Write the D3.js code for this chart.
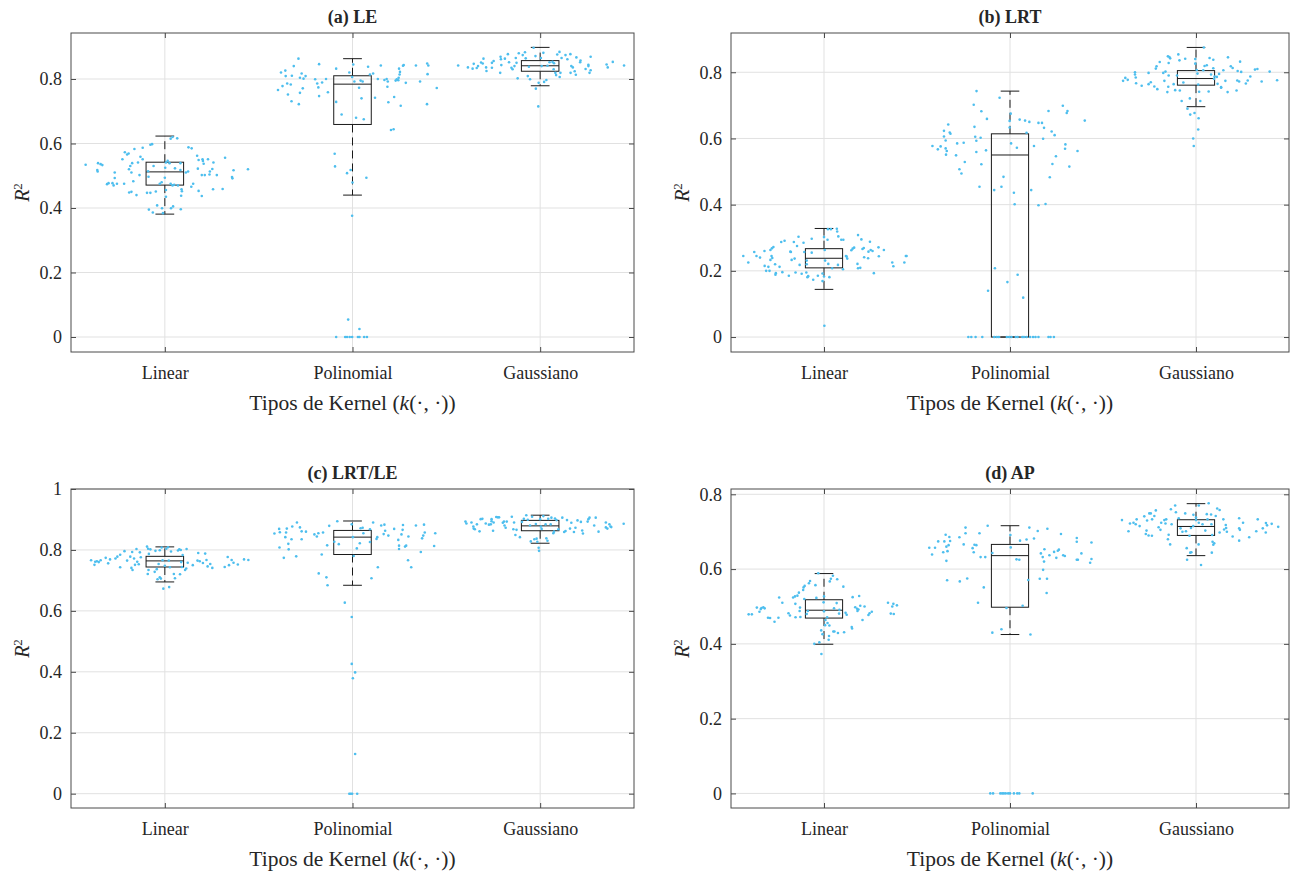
<!DOCTYPE html>
<html lang="en">
<head>
<meta charset="UTF-8">
<title>R2 por tipo de kernel</title>
<script src="https://cdn.jsdelivr.net/npm/d3@7"></script>
<style>
  body { margin: 0; background: #fff; }
  svg text { font-family: "Liberation Serif", "Times New Roman", serif; fill: #262626; }
  .grid line { stroke: #e1e1e1; stroke-width: 1; }
  .frame { fill: none; stroke: #4a4a4a; stroke-width: 1; }
  .axis path { display: none; }
  .axis line { stroke: #4a4a4a; }
  .dot { fill: #4dbeee; }
  .box rect, .box line { stroke: #1a1a1a; stroke-width: 1; fill: none; }
</style>
</head>
<body>
<script>
const categories = ['Linear', 'Polinomial', 'Gaussiano'];
const titles = ['(a) LE', '(b) LRT', '(c) LRT/LE', '(d) AP'];
const yTicks = [
  [0, 0.2, 0.4, 0.6, 0.8],
  [0, 0.2, 0.4, 0.6, 0.8],
  [0, 0.2, 0.4, 0.6, 0.8, 1],
  [0, 0.2, 0.4, 0.6, 0.8]
];
const yLimits = [[-0.0465, 0.9426], [-0.0452, 0.9186], [-0.047, 1.0], [-0.039, 0.8142]];

// box stats per kernel: [lower whisker, q1, median, q3, upper whisker]
const boxLE  = [[0.381, 0.471, 0.512, 0.542, 0.623], [0.440, 0.659, 0.784, 0.810, 0.863], [0.779, 0.824, 0.841, 0.857, 0.898]];
const boxLRT = [[0.144, 0.209, 0.238, 0.267, 0.328], [0, 0, 0.550, 0.614, 0.743], [0.696, 0.761, 0.781, 0.805, 0.875]];
const boxLRTLE = [[0.695, 0.744, 0.764, 0.779, 0.810], [0.684, 0.785, 0.842, 0.864, 0.895], [0.822, 0.863, 0.879, 0.897, 0.914]];
const boxAP  = [[0.399, 0.469, 0.490, 0.518, 0.588], [0.425, 0.498, 0.636, 0.666, 0.716], [0.636, 0.690, 0.714, 0.732, 0.775]];

// scatter points: [horizontal jitter in category units, R2]
const leLinear = [[-0.422,0.534],[-0.356,0.539],[-0.342,0.536],[-0.333,0.533],[-0.360,0.518],[-0.358,0.513],[-0.308,0.474],[-0.300,0.477],[-0.279,0.477],[-0.273,0.470],[-0.255,0.475],[-0.267,0.493],[-0.267,0.510],[-0.226,0.551],[-0.213,0.573],[-0.201,0.566],[-0.193,0.569],[-0.162,0.583],[-0.118,0.587],[-0.077,0.596],[-0.068,0.598],[-0.217,0.475],[-0.191,0.520],[-0.184,0.530],[-0.174,0.539],[-0.168,0.483],[-0.178,0.450],[-0.151,0.440],[-0.143,0.541],[-0.135,0.502],[-0.130,0.559],[-0.118,0.551],[-0.178,0.510],[-0.190,0.448],[-0.095,0.447],[-0.077,0.447],[-0.085,0.395],[-0.064,0.386],[-0.041,0.408],[-0.015,0.399],[-0.010,0.384],[-0.087,0.497],[-0.089,0.514],[-0.060,0.530],[-0.048,0.451],[-0.027,0.475],[-0.017,0.480],[0,0.494],[0.002,0.525],[0.006,0.541],[0.015,0.546],[0.025,0.539],[0.031,0.615],[0.041,0.620],[0.066,0.616],[0.031,0.475],[0.050,0.472],[0.070,0.470],[0.041,0.470],[0.089,0.458],[0.091,0.452],[0.087,0.438],[0.085,0.396],[0.044,0.405],[0.033,0.399],[0.006,0.435],[0.006,0.456],[0.054,0.523],[0.083,0.539],[0.083,0.518],[0.112,0.510],[0.124,0.513],[0.126,0.588],[0.143,0.585],[0.151,0.475],[0.141,0.466],[0.172,0.562],[0.180,0.453],[0.197,0.437],[0.176,0.522],[0.180,0.549],[0.201,0.551],[0.203,0.546],[0.230,0.551],[0.207,0.537],[0.197,0.502],[0.213,0.502],[0.240,0.513],[0.238,0.504],[0.259,0.541],[0.253,0.521],[0.277,0.502],[0.257,0.458],[0.308,0.459],[0.321,0.556],[0.358,0.496],[0.360,0.492],[0.366,0.517],[0.443,0.520]];
const lePoli = [[-0.397,0.766],[-0.381,0.820],[-0.373,0.778],[-0.358,0.826],[-0.356,0.809],[-0.348,0.786],[-0.344,0.752],[-0.323,0.810],[-0.329,0.783],[-0.325,0.731],[-0.313,0.840],[-0.288,0.863],[-0.286,0.722],[-0.280,0.757],[-0.280,0.804],[-0.271,0.817],[-0.265,0.771],[-0.261,0.801],[-0.250,0.809],[-0.199,0.799],[-0.188,0.786],[-0.182,0.774],[-0.178,0.846],[-0.178,0.747],[-0.162,0.789],[-0.141,0.800],[-0.131,0.759],[-0.087,0.832],[-0.087,0.729],[-0.095,0.568],[-0.093,0.529],[-0.058,0.690],[-0.029,0.508],[-0.010,0.518],[0,0.479],[-0.002,0.376],[-0.023,0.054],[0.037,0.025],[-0.087,0],[-0.039,0],[-0.029,0],[-0.015,0],[-0.002,0],[0.029,0],[0.037,0],[0.062,0],[0.077,0],[-0.017,0.820],[-0.002,0.806],[0.004,0.845],[0.010,0.792],[0.035,0.773],[0.043,0.795],[0.054,0.792],[0.048,0.740],[0.019,0.680],[0.060,0.675],[0.074,0.494],[0.083,0.838],[0.093,0.814],[0.110,0.817],[0.120,0.742],[0.135,0.800],[0.151,0.842],[0.170,0.797],[0.182,0.800],[0.186,0.776],[0.191,0.728],[0.188,0.792],[0.205,0.642],[0.219,0.644],[0.222,0.744],[0.230,0.795],[0.236,0.799],[0.244,0.796],[0.246,0.804],[0.251,0.814],[0.253,0.822],[0.248,0.832],[0.257,0.717],[0.269,0.841],[0.273,0.843],[0.284,0.788],[0.338,0.842],[0.360,0.792],[0.398,0.848],[0.404,0.842],[0.400,0.815],[0.397,0.722],[0.449,0.772]];
const leGauss = [[-0.437,0.842],[-0.385,0.836],[-0.360,0.832],[-0.354,0.847],[-0.338,0.834],[-0.331,0.840],[-0.315,0.851],[-0.302,0.863],[-0.306,0.848],[-0.288,0.836],[-0.286,0.825],[-0.257,0.835],[-0.257,0.850],[-0.248,0.856],[-0.213,0.819],[-0.211,0.869],[-0.209,0.861],[-0.207,0.843],[-0.188,0.863],[-0.172,0.877],[-0.166,0.852],[-0.153,0.835],[-0.147,0.830],[-0.130,0.865],[-0.126,0.850],[-0.137,0.840],[-0.120,0.802],[-0.114,0.880],[-0.093,0.874],[-0.081,0.883],[-0.077,0.864],[-0.066,0.809],[-0.054,0.799],[-0.060,0.838],[-0.035,0.897],[-0.025,0.871],[-0.023,0.770],[-0.010,0.715],[-0.008,0.788],[0.004,0.865],[0.008,0.840],[0.017,0.881],[0.021,0.791],[0.033,0.797],[0.039,0.841],[0.050,0.852],[0.066,0.853],[0.072,0.830],[0.074,0.849],[0.081,0.819],[0.085,0.812],[0.091,0.876],[0.103,0.884],[0.104,0.806],[0.108,0.819],[0.114,0.865],[0.135,0.874],[0.145,0.861],[0.162,0.819],[0.166,0.840],[0.174,0.836],[0.184,0.824],[0.190,0.813],[0.161,0.877],[0.193,0.867],[0.213,0.852],[0.215,0.857],[0.242,0.831],[0.257,0.844],[0.257,0.840],[0.263,0.819],[0.269,0.827],[0.269,0.869],[0.354,0.845],[0.360,0.836],[0.387,0.853],[0.447,0.842]];

const lrtLinear = [[-0.434,0.245],[-0.407,0.225],[-0.375,0.257],[-0.363,0.245],[-0.344,0.240],[-0.320,0.260],[-0.319,0.215],[-0.299,0.212],[-0.293,0.200],[-0.311,0.200],[-0.288,0.233],[-0.282,0.245],[-0.278,0.239],[-0.272,0.272],[-0.280,0.268],[-0.288,0.263],[-0.263,0.220],[-0.259,0.193],[-0.261,0.188],[-0.239,0.212],[-0.230,0.287],[-0.224,0.196],[-0.212,0.291],[-0.189,0.185],[-0.181,0.258],[-0.178,0.257],[-0.174,0.233],[-0.158,0.237],[-0.162,0.287],[-0.153,0.195],[-0.145,0.275],[-0.137,0.303],[-0.131,0.218],[-0.120,0.191],[-0.110,0.285],[-0.106,0.257],[-0.093,0.231],[-0.093,0.220],[-0.095,0.195],[-0.089,0.181],[-0.085,0.184],[-0.066,0.297],[-0.066,0.255],[-0.058,0.173],[-0.033,0.185],[-0.008,0.192],[-0.008,0.169],[0,0.183],[0,0.302],[0.004,0.263],[0.006,0.231],[0.019,0.294],[0.021,0.326],[0.023,0.221],[0.029,0.181],[0.037,0.326],[0.044,0.208],[0.069,0.327],[0.071,0.319],[0.077,0.304],[0.075,0.218],[0.093,0.294],[0.104,0.294],[0.118,0.245],[0.122,0.243],[0.125,0.237],[0.102,0.205],[0.147,0.262],[0.154,0.267],[0.162,0.270],[0.180,0.221],[0.183,0.308],[0.183,0.208],[0.195,0.209],[0.201,0.295],[0.207,0.266],[0.214,0.269],[0.216,0.241],[0.237,0.238],[0.239,0.258],[0.247,0.288],[0.251,0.263],[0.261,0.260],[0.268,0.193],[0.293,0.271],[0.295,0.244],[0.322,0.263],[0.367,0.225],[0.373,0.214],[0.432,0.225],[0.440,0.245],[0.444,0.245],[0.002,0.034]];
const lrtPoli = [[-0.417,0.577],[-0.388,0.567],[-0.373,0.576],[-0.355,0.623],[-0.355,0.606],[-0.346,0.594],[-0.346,0.570],[-0.340,0.562],[-0.344,0.551],[-0.332,0.642],[-0.324,0.618],[-0.320,0.614],[-0.290,0.549],[-0.284,0.585],[-0.272,0.507],[-0.261,0.494],[-0.249,0.587],[-0.243,0.529],[-0.195,0.702],[-0.191,0.635],[-0.187,0.605],[-0.181,0.559],[-0.180,0.743],[-0.181,0.593],[-0.164,0.454],[-0.158,0.602],[-0.154,0.682],[-0.154,0.522],[-0.129,0.564],[-0.124,0.659],[-0.118,0.140],[-0.085,0.444],[-0.081,0.208],[-0.056,0.723],[-0.046,0.454],[-0.035,0.484],[-0.014,0.166],[0.004,0.675],[-0.002,0.653],[-0.002,0.633],[0.006,0.585],[0.021,0.436],[0.025,0.401],[0.037,0.572],[0.041,0.188],[0.052,0.657],[0.071,0.119],[0.081,0.654],[0.089,0.617],[0.104,0.650],[0.114,0.444],[0.129,0.577],[0.153,0.398],[0.153,0.647],[0.172,0.647],[0.178,0.599],[0.183,0.632],[0.191,0.402],[0.207,0.683],[0.214,0.483],[0.224,0.621],[0.228,0.523],[0.240,0.610],[0.247,0.546],[0.284,0.699],[0.296,0.569],[0.298,0.582],[0.305,0.677],[0.309,0.683],[0.319,0.515],[0.363,0.562],[0.402,0.654],[-0.224,0],[-0.208,0],[-0.185,0],[-0.149,0],[-0.085,0],[-0.071,0],[-0.060,0],[-0.017,0],[-0.004,0],[0.008,0],[0.031,0],[0.041,0],[0.066,0],[0.075,0],[0.089,0],[0.108,0],[0.124,0],[0.137,0],[0.153,0],[0.207,0],[0.218,0],[0.236,0]];
const lrtGauss = [[-0.392,0.774],[-0.380,0.783],[-0.367,0.777],[-0.328,0.800],[-0.328,0.793],[-0.324,0.784],[-0.322,0.767],[-0.292,0.759],[-0.255,0.798],[-0.255,0.764],[-0.243,0.770],[-0.224,0.757],[-0.216,0.811],[-0.212,0.818],[-0.208,0.749],[-0.195,0.831],[-0.176,0.798],[-0.170,0.774],[-0.164,0.802],[-0.154,0.740],[-0.151,0.848],[-0.147,0.828],[-0.149,0.756],[-0.147,0.790],[-0.143,0.846],[-0.139,0.842],[-0.120,0.764],[-0.112,0.746],[-0.102,0.790],[-0.095,0.854],[-0.089,0.836],[-0.087,0.745],[-0.077,0.713],[-0.068,0.769],[-0.058,0.841],[-0.046,0.690],[-0.033,0.721],[-0.031,0.672],[-0.015,0.600],[-0.012,0.577],[-0.008,0.677],[-0.004,0.840],[-0.004,0.826],[0.004,0.807],[0.008,0.796],[0.012,0.763],[0.017,0.741],[0.012,0.627],[0.014,0.661],[0.023,0.713],[0.039,0.806],[0.042,0.875],[0.046,0.819],[0.058,0.821],[0.068,0.742],[0.073,0.843],[0.081,0.793],[0.093,0.812],[0.093,0.838],[0.097,0.780],[0.100,0.787],[0.112,0.786],[0.116,0.765],[0.124,0.795],[0.135,0.755],[0.135,0.753],[0.147,0.806],[0.158,0.774],[0.170,0.740],[0.172,0.845],[0.187,0.818],[0.197,0.813],[0.218,0.745],[0.222,0.775],[0.224,0.804],[0.237,0.832],[0.232,0.772],[0.243,0.801],[0.268,0.766],[0.278,0.775],[0.292,0.787],[0.317,0.808],[0.330,0.810],[0.353,0.772],[0.396,0.802],[0.436,0.776]];

const lrtleLinear = [[-0.393,0.766],[-0.371,0.761],[-0.375,0.751],[-0.362,0.763],[-0.352,0.760],[-0.342,0.766],[-0.315,0.774],[-0.302,0.756],[-0.292,0.769],[-0.263,0.772],[-0.253,0.778],[-0.238,0.743],[-0.238,0.784],[-0.215,0.796],[-0.201,0.765],[-0.184,0.778],[-0.178,0.741],[-0.174,0.793],[-0.164,0.772],[-0.159,0.751],[-0.147,0.761],[-0.133,0.792],[-0.128,0.776],[-0.151,0.803],[-0.172,0.734],[-0.139,0.753],[-0.095,0.811],[-0.089,0.804],[-0.091,0.721],[-0.087,0.734],[-0.085,0.787],[-0.077,0.802],[-0.054,0.728],[-0.050,0.797],[-0.039,0.704],[-0.043,0.737],[-0.033,0.754],[-0.027,0.710],[-0.021,0.706],[-0.008,0.673],[-0.017,0.808],[0,0.748],[0.008,0.804],[0.017,0.809],[0.023,0.678],[0.027,0.743],[0.021,0.765],[0.033,0.795],[0.048,0.721],[0.054,0.707],[0.070,0.798],[0.077,0.802],[0.085,0.800],[0.087,0.760],[0.095,0.783],[0.108,0.734],[0.114,0.739],[0.116,0.803],[0.122,0.758],[0.149,0.750],[0.174,0.765],[0.178,0.790],[0.186,0.763],[0.203,0.757],[0.215,0.788],[0.222,0.767],[0.228,0.746],[0.242,0.754],[0.253,0.741],[0.319,0.744],[0.335,0.777],[0.342,0.750],[0.356,0.767],[0.366,0.758],[0.389,0.752],[0.422,0.769],[0.445,0.767],[-0.027,0.799],[-0.012,0.766],[0.081,0.720],[0.091,0.744]];
const lrtlePoli = [[-0.416,0.854],[-0.391,0.869],[-0.387,0.858],[-0.389,0.808],[-0.366,0.774],[-0.358,0.842],[-0.354,0.857],[-0.350,0.870],[-0.342,0.820],[-0.340,0.802],[-0.325,0.835],[-0.321,0.877],[-0.300,0.779],[-0.296,0.890],[-0.280,0.874],[-0.271,0.861],[-0.271,0.835],[-0.248,0.860],[-0.203,0.851],[-0.190,0.844],[-0.182,0.855],[-0.180,0.723],[-0.164,0.785],[-0.157,0.857],[-0.139,0.710],[-0.133,0.684],[-0.135,0.815],[-0.124,0.879],[-0.097,0.827],[-0.081,0.894],[-0.073,0.819],[-0.041,0.627],[-0.004,0.580],[-0.004,0.426],[0.014,0.398],[0.002,0.379],[0.014,0.130],[-0.017,0],[-0.010,0],[-0.002,0],[0.025,0],[-0.004,0.884],[0.002,0.842],[0.006,0.780],[0.023,0.805],[0.039,0.822],[0.043,0.871],[0.054,0.873],[0.058,0.855],[0.093,0.826],[0.093,0.868],[0.101,0.707],[0.110,0.890],[0.128,0.836],[0.132,0.842],[0.135,0.743],[0.153,0.880],[0.166,0.852],[0.170,0.883],[0.174,0.863],[0.191,0.847],[0.222,0.869],[0.244,0.833],[0.248,0.814],[0.248,0.803],[0.269,0.882],[0.261,0.851],[0.267,0.866],[0.280,0.811],[0.286,0.814],[0.296,0.766],[0.298,0.844],[0.313,0.743],[0.338,0.880],[0.364,0.793],[0.371,0.838],[0.381,0.883],[0.377,0.847],[0.385,0.857],[0.435,0.813],[0.441,0.855]];
const lrtleGauss = [[-0.398,0.893],[-0.393,0.887],[-0.366,0.890],[-0.356,0.877],[-0.354,0.870],[-0.348,0.868],[-0.337,0.884],[-0.323,0.861],[-0.317,0.901],[-0.308,0.902],[-0.290,0.887],[-0.273,0.883],[-0.263,0.884],[-0.259,0.901],[-0.259,0.894],[-0.251,0.863],[-0.248,0.890],[-0.234,0.908],[-0.226,0.907],[-0.219,0.907],[-0.199,0.889],[-0.193,0.893],[-0.190,0.880],[-0.184,0.873],[-0.178,0.893],[-0.151,0.909],[-0.139,0.890],[-0.143,0.868],[-0.132,0.849],[-0.126,0.866],[-0.108,0.842],[-0.097,0.892],[-0.087,0.902],[-0.074,0.914],[-0.066,0.899],[-0.054,0.880],[-0.050,0.828],[-0.043,0.909],[-0.031,0.835],[-0.023,0.885],[-0.019,0.837],[-0.015,0.827],[-0.008,0.807],[-0.006,0.797],[0,0.901],[0.004,0.877],[0.008,0.869],[0.017,0.911],[0.029,0.884],[0.033,0.838],[0.039,0.830],[0.043,0.902],[0.056,0.884],[0.060,0.906],[0.070,0.855],[0.074,0.860],[0.079,0.903],[0.087,0.898],[0.097,0.868],[0.118,0.906],[0.128,0.859],[0.135,0.862],[0.143,0.898],[0.159,0.870],[0.166,0.889],[0.180,0.859],[0.188,0.873],[0.199,0.897],[0.217,0.892],[0.224,0.864],[0.228,0.854],[0.253,0.893],[0.257,0.901],[0.263,0.906],[0.288,0.880],[0.296,0.906],[0.311,0.860],[0.350,0.874],[0.350,0.890],[0.358,0.870],[0.375,0.877],[0.369,0.884],[0.379,0.875],[0.445,0.886]];

const apLinear = [[-0.405,0.479],[-0.388,0.479],[-0.361,0.497],[-0.347,0.486],[-0.340,0.493],[-0.336,0.496],[-0.326,0.498],[-0.319,0.495],[-0.301,0.470],[-0.290,0.469],[-0.266,0.459],[-0.245,0.470],[-0.241,0.524],[-0.224,0.510],[-0.191,0.482],[-0.183,0.476],[-0.166,0.524],[-0.156,0.527],[-0.154,0.507],[-0.153,0.471],[-0.143,0.529],[-0.135,0.537],[-0.131,0.488],[-0.129,0.497],[-0.127,0.472],[-0.112,0.544],[-0.110,0.551],[-0.104,0.555],[-0.106,0.520],[-0.093,0.480],[-0.087,0.488],[-0.081,0.562],[-0.075,0.568],[-0.046,0.557],[-0.041,0.523],[-0.031,0.589],[-0.052,0.400],[-0.025,0.404],[-0.015,0.436],[-0.014,0.373],[-0.008,0.426],[0,0.527],[-0.002,0.511],[0,0.487],[0.008,0.464],[0.006,0.450],[0.017,0.471],[0.025,0.411],[0.027,0.421],[0.031,0.567],[0.037,0.574],[0.048,0.582],[0.050,0.433],[0.056,0.433],[0.054,0.495],[0.068,0.509],[0.071,0.573],[0.075,0.429],[0.083,0.491],[0.104,0.553],[0.108,0.431],[0.116,0.483],[0.122,0.478],[0.149,0.445],[0.151,0.441],[0.154,0.525],[0.168,0.498],[0.178,0.494],[0.180,0.488],[0.185,0.492],[0.189,0.528],[0.195,0.502],[0.207,0.464],[0.218,0.500],[0.239,0.477],[0.245,0.482],[0.257,0.486],[0.344,0.510],[0.367,0.500],[0.373,0.507],[0.392,0.503],[0.359,0.481],[0.375,0.480],[0.019,0.456],[0.029,0.449],[0.081,0.481]];
const apPoli = [[-0.434,0.657],[-0.419,0.639],[-0.403,0.657],[-0.386,0.674],[-0.359,0.645],[-0.353,0.674],[-0.346,0.692],[-0.342,0.622],[-0.342,0.660],[-0.336,0.648],[-0.330,0.664],[-0.326,0.686],[-0.322,0.675],[-0.338,0.570],[-0.270,0.567],[-0.272,0.685],[-0.249,0.666],[-0.239,0.711],[-0.239,0.696],[-0.230,0.575],[-0.201,0.656],[-0.195,0.645],[-0.191,0.665],[-0.181,0.664],[-0.164,0.696],[-0.158,0.632],[-0.141,0.551],[-0.133,0.632],[-0.172,0.510],[-0.120,0.716],[-0.095,0.430],[-0.095,0.643],[-0.046,0.439],[-0.019,0.496],[0.002,0.691],[0.004,0.658],[0.035,0.626],[0.050,0.625],[0.054,0.676],[0.068,0.502],[0.089,0.679],[0.098,0.571],[0.104,0.711],[0.110,0.425],[0.129,0.682],[0.149,0.702],[0.166,0.642],[0.176,0.632],[0.183,0.620],[0.178,0.598],[0.185,0.653],[0.160,0.574],[0.199,0.574],[0.197,0.536],[0.201,0.708],[0.212,0.637],[0.237,0.646],[0.249,0.630],[0.257,0.649],[0.263,0.652],[0.274,0.694],[0.286,0.637],[0.295,0.635],[0.359,0.683],[0.359,0.673],[0.359,0.625],[0.365,0.625],[0.384,0.642],[0.431,0.617],[0.438,0.671],[0.438,0.627],[-0.106,0],[-0.091,0],[-0.052,0],[-0.042,0],[-0.033,0],[-0.023,0],[-0.010,0],[0,0],[0.021,0],[0.039,0],[0.050,0],[0.122,0]];
const apGauss = [[-0.398,0.731],[-0.363,0.701],[-0.355,0.722],[-0.336,0.724],[-0.324,0.720],[-0.319,0.733],[-0.303,0.715],[-0.278,0.741],[-0.266,0.703],[-0.270,0.694],[-0.263,0.730],[-0.255,0.690],[-0.251,0.749],[-0.243,0.749],[-0.237,0.689],[-0.224,0.742],[-0.216,0.757],[-0.236,0.733],[-0.201,0.712],[-0.191,0.705],[-0.187,0.724],[-0.170,0.731],[-0.164,0.722],[-0.160,0.733],[-0.151,0.680],[-0.147,0.692],[-0.139,0.666],[-0.131,0.720],[-0.135,0.760],[-0.112,0.770],[-0.108,0.752],[-0.093,0.736],[-0.083,0.709],[-0.073,0.700],[-0.058,0.749],[-0.054,0.701],[-0.048,0.625],[-0.050,0.656],[-0.035,0.689],[-0.031,0.644],[-0.027,0.710],[-0.025,0.645],[-0.015,0.715],[-0.014,0.745],[0,0.731],[0,0.738],[0.015,0.770],[0.015,0.724],[0.014,0.666],[0.027,0.611],[0.035,0.720],[0.050,0.703],[0.058,0.747],[0.062,0.733],[0.068,0.776],[0.081,0.746],[0.083,0.720],[0.085,0.644],[0.089,0.673],[0.093,0.665],[0.087,0.691],[0.098,0.669],[0.106,0.742],[0.114,0.762],[0.127,0.758],[0.127,0.698],[0.147,0.733],[0.151,0.706],[0.160,0.718],[0.166,0.700],[0.162,0.710],[0.197,0.687],[0.232,0.676],[0.232,0.736],[0.232,0.709],[0.236,0.705],[0.253,0.724],[0.286,0.685],[0.324,0.701],[0.332,0.733],[0.359,0.709],[0.376,0.723],[0.382,0.717],[0.375,0.698],[0.407,0.721],[0.442,0.713]];

const panelBoxes = [boxLE, boxLRT, boxLRTLE, boxAP];
const panelPoints = [
  [leLinear, lePoli, leGauss],
  [lrtLinear, lrtPoli, lrtGauss],
  [lrtleLinear, lrtlePoli, lrtleGauss],
  [apLinear, apPoli, apGauss]
];

const W = 1298, H = 873;
const frames = [
  {x: 71, y: 33, w: 563, h: 319},
  {x: 731, y: 33, w: 558, h: 319},
  {x: 71, y: 489, w: 563, h: 319},
  {x: 731, y: 489, w: 558, h: 319}
];
const boxHalf = 0.1, capHalf = 0.05, tickLen = 5;

const svg = d3.select('body').append('svg')
  .attr('width', W).attr('height', H)
  .attr('viewBox', `0 0 ${W} ${H}`);

frames.forEach((f, i) => {
  const g = svg.append('g').attr('transform', `translate(${f.x},${f.y})`);
  const x = d3.scaleLinear().domain([0.5, 3.5]).range([0, f.w]);
  const y = d3.scaleLinear().domain(yLimits[i]).range([f.h, 0]);
  const cats = [1, 2, 3];

  // grid
  const grid = g.append('g').attr('class', 'grid');
  grid.selectAll('.gx').data(cats).enter().append('line')
    .attr('x1', d => x(d)).attr('x2', d => x(d))
    .attr('y1', 0).attr('y2', f.h);
  grid.selectAll('.gy').data(yTicks[i]).enter().append('line')
    .attr('x1', 0).attr('x2', f.w)
    .attr('y1', d => y(d)).attr('y2', d => y(d));

  // boxes
  panelBoxes[i].forEach((b, k) => {
    const c = k + 1;
    const [lo, q1, med, q3, hi] = b;
    const bg = g.append('g').attr('class', 'box');
    bg.append('line').attr('x1', x(c)).attr('x2', x(c)).attr('y1', y(q3)).attr('y2', y(hi)).attr('stroke-dasharray', '8,5');
    bg.append('line').attr('x1', x(c)).attr('x2', x(c)).attr('y1', y(q1)).attr('y2', y(lo)).attr('stroke-dasharray', '8,5');
    bg.append('line').attr('x1', x(c - capHalf)).attr('x2', x(c + capHalf)).attr('y1', y(hi)).attr('y2', y(hi));
    bg.append('line').attr('x1', x(c - capHalf)).attr('x2', x(c + capHalf)).attr('y1', y(lo)).attr('y2', y(lo));
    bg.append('rect').attr('x', x(c - boxHalf)).attr('width', x(c + boxHalf) - x(c - boxHalf))
      .attr('y', y(q3)).attr('height', y(q1) - y(q3));
    bg.append('line').attr('x1', x(c - boxHalf)).attr('x2', x(c + boxHalf)).attr('y1', y(med)).attr('y2', y(med));
  });

  // scatter
  panelPoints[i].forEach((pts, k) => {
    g.append('g').selectAll('circle').data(pts).enter().append('circle')
      .attr('class', 'dot')
      .attr('cx', d => x(k + 1 + d[0]))
      .attr('cy', d => y(d[1]))
      .attr('r', 1.3);
  });

  // axes (inward ticks, box on)
  g.append('g').attr('class', 'axis').attr('transform', `translate(0,${f.h})`)
    .call(d3.axisBottom(x).tickValues(cats).tickSize(-tickLen).tickPadding(14).tickFormat((d, j) => categories[j]))
    .selectAll('text').style('font-size', '18px');
  g.append('g').attr('class', 'axis')
    .call(d3.axisTop(x).tickValues(cats).tickSize(-tickLen).tickFormat(''));
  g.append('g').attr('class', 'axis')
    .call(d3.axisLeft(y).tickValues(yTicks[i]).tickSize(-tickLen).tickPadding(9).tickFormat(d => String(d)))
    .selectAll('text').style('font-size', '18px');
  g.append('g').attr('class', 'axis').attr('transform', `translate(${f.w},0)`)
    .call(d3.axisRight(y).tickValues(yTicks[i]).tickSize(-tickLen).tickFormat(''));

  g.append('rect').attr('class', 'frame').attr('width', f.w).attr('height', f.h);

  // title
  g.append('text').attr('x', f.w / 2).attr('y', -10)
    .attr('text-anchor', 'middle').style('font-size', '18px').style('font-weight', 'bold')
    .text(titles[i]);

  // x label
  const xl = g.append('text').attr('x', f.w / 2).attr('y', f.h + 58)
    .attr('text-anchor', 'middle').style('font-size', '21.5px');
  xl.append('tspan').text('Tipos de Kernel (');
  xl.append('tspan').style('font-style', 'italic').text('k');
  xl.append('tspan').text('(·, ·))');

  // y label
  const yl = g.append('text')
    .attr('transform', `translate(-42,${f.h / 2}) rotate(-90)`)
    .attr('text-anchor', 'middle').style('font-size', '20px');
  yl.append('tspan').style('font-style', 'italic').text('R');
  yl.append('tspan').attr('dy', -7).style('font-size', '13px').text('2');
});
</script>
</body>
</html>
